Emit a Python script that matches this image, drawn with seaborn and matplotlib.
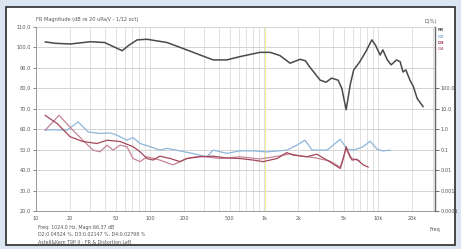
import numpy as np
import pandas as pd
import seaborn as sns
import matplotlib.pyplot as plt
from matplotlib.patches import Rectangle

# frequency response (Hz, dB)
fr_freq = [12, 15, 20, 30, 40, 57, 65, 77, 94, 141, 210, 300, 357, 470, 612, 920, 1130,
           1380, 1690, 2070, 2300, 2500, 3100, 3500, 3900, 4450, 4800, 5240, 5700, 6100,
           6900, 7800, 8800, 9500, 10400, 11000, 12000, 13000, 14500, 15600, 16500, 17500,
           19000, 20300, 22000, 24800]
fr_db = [102.7, 102.0, 101.7, 102.8, 102.4, 98.4, 101.0, 103.7, 104.0, 102.4, 98.8, 95.5,
         93.9, 93.9, 95.5, 97.6, 97.6, 96.0, 92.3, 94.2, 93.5, 90.6, 84.0, 83.0, 85.0,
         84.0, 80.0, 69.5, 82.0, 89.0, 93.0, 98.0, 103.7, 101.0, 96.3, 98.8, 94.0, 91.5,
         93.9, 93.0, 88.0, 89.0, 84.0, 81.0, 75.0, 71.0]

# distortion curves (Hz, %)
d2_freq = [12, 14.1, 18.7, 23.4, 28.6, 36.4, 44.6, 51.3, 62.7, 70.9, 81.7, 100, 122, 141,
           183, 237, 316, 357, 472, 612, 800, 1060, 1580, 1940, 2280, 2640, 3560, 4650,
           5350, 6100, 7400, 8500, 9800, 11000, 12800]
d2_pct = [0.89, 0.95, 0.89, 2.3, 0.74, 0.62, 0.66, 0.51, 0.29, 0.39, 0.20, 0.14, 0.095,
          0.115, 0.087, 0.065, 0.045, 0.095, 0.066, 0.087, 0.087, 0.078, 0.095, 0.166,
          0.29, 0.095, 0.095, 0.32, 0.105, 0.095, 0.14, 0.26, 0.105, 0.087, 0.095]

d3_freq = [12, 15.4, 19.9, 25.8, 34.3, 42, 54.6, 70.9, 81.7, 94, 106, 122, 150, 183, 210,
           275, 357, 472, 612, 800, 980, 1300, 1580, 1800, 2380, 2900, 3750, 4650, 4950,
           5240, 5450, 5900, 6500, 7400, 8200]
d3_pct = [4.8, 1.86, 0.43, 0.25, 0.20, 0.29, 0.25, 0.14, 0.079, 0.037, 0.031, 0.048, 0.037,
          0.026, 0.037, 0.045, 0.048, 0.039, 0.037, 0.031, 0.026, 0.037, 0.072, 0.054,
          0.045, 0.06, 0.026, 0.012, 0.037, 0.14, 0.079, 0.031, 0.034, 0.018, 0.014]

d4_freq = [12, 13.8, 15.9, 21.1, 25.8, 31.6, 36.4, 42, 47.3, 54.6, 62.7, 70.9, 81.7, 94,
           122, 159, 210, 275, 412, 612, 920, 1380, 1690, 2070, 2800, 3750, 4650, 5240,
           5700, 6900]
d4_pct = [0.89, 2.0, 4.8, 0.89, 0.29, 0.095, 0.079, 0.166, 0.095, 0.166, 0.14, 0.037,
          0.026, 0.045, 0.031, 0.018, 0.037, 0.048, 0.037, 0.045, 0.035, 0.05, 0.063, 0.05,
          0.04, 0.028, 0.014, 0.11, 0.04, 0.028]

x_ticks = [10, 20, 50, 100, 200, 500, 1000, 2000, 5000, 10000, 20000]
x_labels = ['10', '20', '50', '100', '200', '500', '1k', '2k', '5k', '10k', '20k']
db_ticks = [20, 30, 40, 50, 60, 70, 80, 90, 100, 110]
pct_ticks = [1e-4, 1e-3, 1e-2, 1e-1, 1, 10, 100]
pct_labels = ['0.0001', '0.001', '0.01', '0.1', '1.0', '10.0', '100.0']

sns.set_style('white')
plt.rcParams['font.family'] = ['DejaVu Sans']

txt = '#555555'
c_fr = '#4a4a4a'
c_d2 = '#8db6db'
c_d3 = '#a4475b'
c_d4 = '#c58598'

fig = plt.figure(figsize=(4.61, 2.49), dpi=100)
fig.patch.set_facecolor('#dbe5f1')
fig.patches.append(Rectangle((6 / 461, 1 - 245 / 249), 449 / 461, 238 / 249,
                             transform=fig.transFigure, facecolor='white',
                             edgecolor='#2b2b2b', linewidth=1.2, zorder=-5))

ax = fig.add_axes([36 / 461, 1 - 211 / 249, 399 / 461, 184 / 249])
ax.set_facecolor('white')
ax.set_xscale('log')
ax.set_xlim(10, 31500)
ax.set_ylim(20, 110)

ax2 = ax.twinx()
ax2.set_yscale('log')
ax2.set_ylim(1e-4, 1e5)

# log grid: every 1..9 x decade
for dec in [10, 100, 1000, 10000]:
    for m in range(1, 10):
        f = m * dec
        if f < 31500:
            ax.axvline(f, color='#dcdcdc', linewidth=0.6, zorder=0)
for v in db_ticks:
    ax.axhline(v, color='#d4d4d4', linewidth=0.7, zorder=0)

# cursor line at 1024 Hz
ax.axvline(1024, color='#eeee99', linewidth=0.8, zorder=1)

fr_df = pd.DataFrame({'freq': fr_freq, 'db': fr_db})
sns.lineplot(data=fr_df, x='freq', y='db', ax=ax, color=c_fr, linewidth=1.1, zorder=5)

for fq, vals, col in [(d2_freq, d2_pct, c_d2), (d4_freq, d4_pct, c_d4), (d3_freq, d3_pct, c_d3)]:
    df = pd.DataFrame({'freq': fq, 'pct': vals})
    sns.lineplot(data=df, x='freq', y='pct', ax=ax2, color=col, linewidth=0.9)

ax.set_xticks(x_ticks)
ax.set_xticklabels(x_labels)
ax.xaxis.set_minor_locator(plt.NullLocator())
ax.set_yticks(db_ticks)
ax.set_yticklabels([f'{v:.1f}' for v in db_ticks])
ax.tick_params(axis='both', which='major', labelsize=3.6, colors=txt, length=2, width=0.5, pad=1.5)
ax.set_xlabel('')
ax.set_ylabel('')

ax2.set_yticks(pct_ticks)
ax2.set_yticklabels(pct_labels)
ax2.yaxis.set_minor_locator(plt.NullLocator())
ax2.tick_params(axis='y', labelsize=3.6, colors=txt, length=3, width=0.6, pad=1)
ax2.set_ylabel('')

ax.spines['top'].set_visible(False)
ax2.spines['top'].set_visible(False)
for sp in ['left', 'bottom']:
    ax.spines[sp].set_color('#999999')
    ax.spines[sp].set_linewidth(0.7)
ax2.spines['right'].set_color('#666666')
ax2.spines['right'].set_linewidth(0.9)
ax2.spines['left'].set_visible(False)
ax2.spines['bottom'].set_visible(False)

fig.text(36 / 461, 1 - 19 / 249, 'FR Magnitude (dB re 20 uPa/V - 1/12 oct)',
         fontsize=3.6, color=txt, va='center')
fig.text(424 / 461, 1 - 21 / 249, 'D(%)', fontsize=3.6, color=txt, va='center')
fig.text(429 / 461, 1 - 229 / 249, 'Freq', fontsize=3.6, color=txt, va='center')

for i, (lab, col) in enumerate([('FR', c_fr), ('D2', c_d2), ('D3', c_d3), ('D4', c_d4)]):
    fig.text(438 / 461, 1 - (30 + i * 6.5) / 249, lab, fontsize=3.2, color=col,
             va='center', fontweight='bold')

info = ['Freq: 1024.0 Hz, Magn:66.37 dB',
        'D2:0.04524 %, D3:0.02147 %, D4:0.02798 %',
        'Astell&Kern T9P II - FR & Distortion Left']
for i, line in enumerate(info):
    fig.text(38 / 461, 1 - (227 + i * 6.8 + (1.5 if i == 2 else 0)) / 249, line,
             fontsize=3.4, color=txt, va='center')

fig.savefig('out.png', dpi=100, facecolor=fig.get_facecolor())
